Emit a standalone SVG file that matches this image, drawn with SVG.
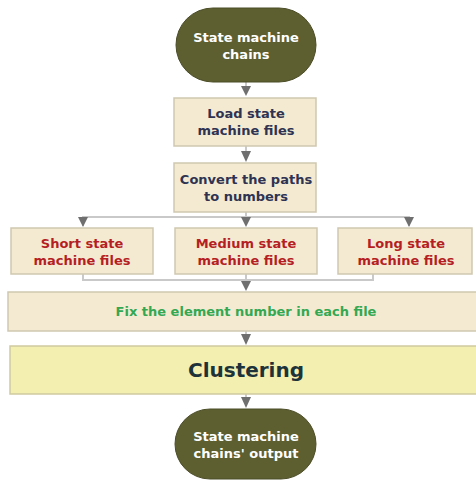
<svg xmlns="http://www.w3.org/2000/svg" width="476" height="483" viewBox="0 0 476 483">
<defs>
<style>
.oval{fill:#5d5f31;stroke:#4b4d27;stroke-width:1}
.box{fill:#f4ead2;stroke:#cfc7b0;stroke-width:1.5}
.clu{fill:#f3efb1;stroke:#cfcaa0;stroke-width:1.5}
.t{font-family:"DejaVu Sans",Verdana,sans-serif;font-weight:bold;font-size:13px;text-anchor:middle}
.w{fill:#ffffff}
.n{fill:#2f3352}
.r{fill:#b51f24}
.g{fill:#33a852}
.line{stroke:#c9c9c9;stroke-width:2;fill:none}
.ah{fill:#6f6f6f}
</style>
</defs>
<g id="connectors">
<line class="line" x1="246" y1="82" x2="246" y2="88"/>
<path class="ah" d="M241,86 L251,86 L246,96 Z"/>
<line class="line" x1="246" y1="146" x2="246" y2="152"/>
<path class="ah" d="M241,151 L251,151 L246,162 Z"/>
<polyline class="line" points="83,226 83,217 409,217 409,226"/>
<line class="line" x1="246" y1="212" x2="246" y2="222"/>
<path class="ah" d="M78,217 L88,217 L83,227 Z"/>
<path class="ah" d="M241,217 L251,217 L246,227 Z"/>
<path class="ah" d="M404,217 L414,217 L409,227 Z"/>
<polyline class="line" points="83,274 83,280 373,280 373,274"/>
<line class="line" x1="246" y1="274" x2="246" y2="285"/>
<path class="ah" d="M241,281 L251,281 L246,291 Z"/>
<line class="line" x1="246" y1="331" x2="246" y2="337"/>
<path class="ah" d="M241,334 L251,334 L246,345 Z"/>
<line class="line" x1="246" y1="394" x2="246" y2="400"/>
<path class="ah" d="M241,397 L251,397 L246,408 Z"/>
</g>
<g id="start">
<rect class="oval" x="176" y="8" width="140" height="74" rx="37" ry="37"/>
<text class="t w" x="246" y="42">State machine</text>
<text class="t w" x="246" y="59">chains</text>
</g>
<g id="load">
<rect class="box" x="174" y="98" width="142" height="48"/>
<text class="t n" x="246" y="118">Load state</text>
<text class="t n" x="246" y="135">machine files</text>
</g>
<g id="convert">
<rect class="box" x="174" y="163" width="142" height="49"/>
<text class="t n" x="246" y="184">Convert the paths</text>
<text class="t n" x="246" y="201">to numbers</text>
</g>
<g id="short">
<rect class="box" x="11" y="228" width="142" height="46"/>
<text class="t r" x="82" y="248">Short state</text>
<text class="t r" x="82" y="265">machine files</text>
</g>
<g id="medium">
<rect class="box" x="175" y="228" width="142" height="46"/>
<text class="t r" x="246" y="248">Medium state</text>
<text class="t r" x="246" y="265">machine files</text>
</g>
<g id="long">
<rect class="box" x="338" y="228" width="134" height="46"/>
<text class="t r" x="406" y="248">Long state</text>
<text class="t r" x="406" y="265">machine files</text>
</g>
<g id="fix">
<rect class="box" x="8" y="292" width="470" height="39"/>
<text class="t g" x="246" y="316">Fix the element number in each file</text>
</g>
<g id="clustering">
<rect class="clu" x="10" y="346" width="468" height="48"/>
<text class="t" x="246" y="377" style="font-size:20px;fill:#1e323a">Clustering</text>
</g>
<g id="end">
<rect class="oval" x="175" y="409" width="141" height="70" rx="35" ry="35"/>
<text class="t w" x="246" y="441">State machine</text>
<text class="t w" x="246" y="458">chains' output</text>
</g>
</svg>
